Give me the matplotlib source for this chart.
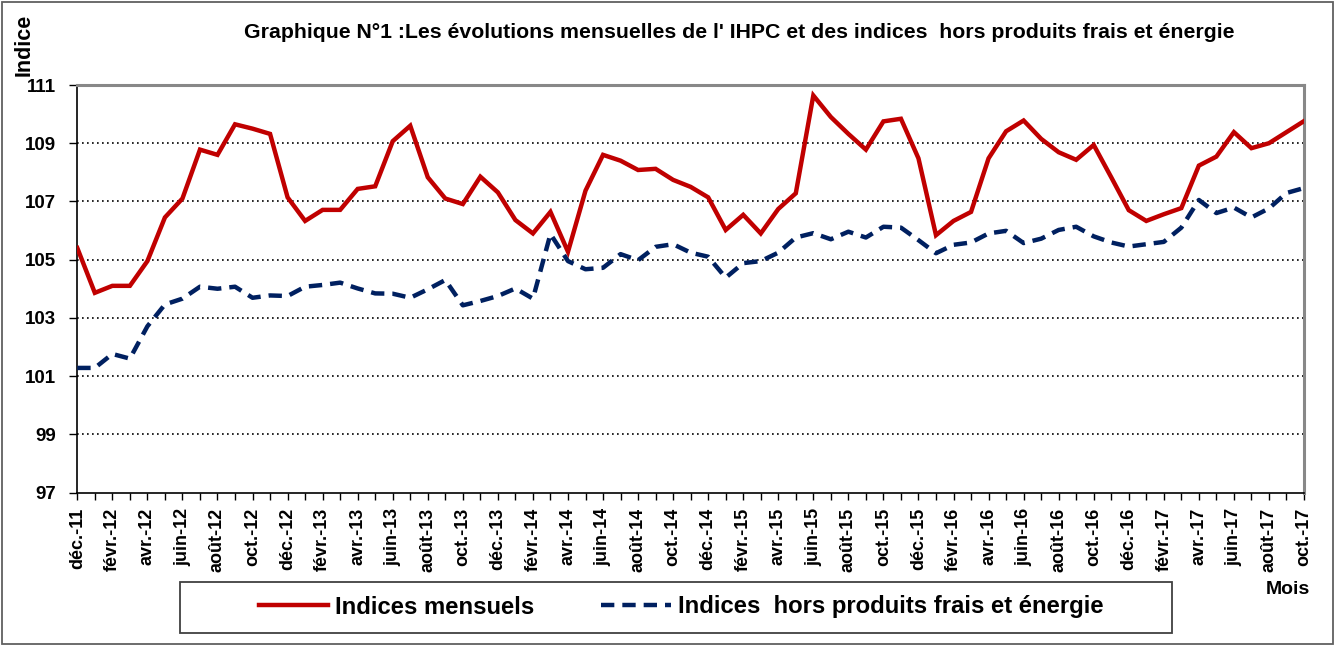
import matplotlib
matplotlib.use("Agg")
import matplotlib.pyplot as plt
from matplotlib.patches import Rectangle
from matplotlib.ticker import MultipleLocator

plt.rcParams['font.family'] = ['Liberation Sans', 'DejaVu Sans']
plt.rcParams['font.weight'] = 'bold'

# Monthly data, déc.-11 .. oct.-17 (71 months)
indices_mensuels = [
    105.4, 103.86, 104.1, 104.1, 104.95, 106.45, 107.1, 108.78, 108.6, 109.65,
    109.5, 109.32, 107.14, 106.33, 106.71, 106.71, 107.43, 107.52, 109.07, 109.6,
    107.83, 107.1, 106.91, 107.85, 107.31, 106.36, 105.9, 106.64, 105.27, 107.37,
    108.6, 108.4, 108.08, 108.12, 107.74, 107.5, 107.14, 106.02, 106.54, 105.9,
    106.74, 107.28, 110.64, 109.9, 109.32, 108.78, 109.75, 109.84, 108.48, 105.84,
    106.33, 106.64, 108.48, 109.41, 109.78, 109.15, 108.69, 108.43, 108.94, 107.83,
    106.7, 106.33, 106.56, 106.77, 108.23, 108.54, 109.38, 108.83, 109.0, 109.38,
    109.76,
]
indices_hors_pfe = [
    101.28, 101.28, 101.76, 101.6, 102.71, 103.46, 103.66, 104.07, 104.0, 104.07,
    103.69, 103.77, 103.75, 104.07, 104.13, 104.21, 104.01, 103.84, 103.83, 103.69,
    103.98, 104.3, 103.43, 103.58, 103.75, 104.01, 103.66, 105.88, 104.95, 104.67,
    104.72, 105.19, 104.98, 105.44, 105.53, 105.24, 105.1, 104.38, 104.88, 104.95,
    105.24, 105.76, 105.91, 105.7, 105.96, 105.76, 106.13, 106.1, 105.67, 105.22,
    105.51, 105.59, 105.9, 105.99, 105.57, 105.72, 106.02, 106.13, 105.8, 105.59,
    105.45, 105.53, 105.61, 106.1, 107.05, 106.6, 106.79, 106.45, 106.76, 107.29,
    107.46,
]
tick_labels = [
    "déc.-11", "févr.-12", "avr.-12", "juin-12", "août-12", "oct.-12",
    "déc.-12", "févr.-13", "avr.-13", "juin-13", "août-13", "oct.-13",
    "déc.-13", "févr.-14", "avr.-14", "juin-14", "août-14", "oct.-14",
    "déc.-14", "févr.-15", "avr.-15", "juin-15", "août-15", "oct.-15",
    "déc.-15", "févr.-16", "avr.-16", "juin-16", "août-16", "oct.-16",
    "déc.-16", "févr.-17", "avr.-17", "juin-17", "août-17", "oct.-17",
]
y_ticks = [97, 99, 101, 103, 105, 107, 109, 111]

W, H = 1335, 646
fig = plt.figure(figsize=(W / 100, H / 100), dpi=100)
ax = fig.add_axes([77.3 / W, 1 - 492.5 / H, (1304 - 77.3) / W, (492.5 - 85) / H])

x = list(range(len(indices_mensuels)))
l1, = ax.plot(x, indices_mensuels, color='#C00000', lw=3.2, solid_joinstyle='miter',
              label='Indices mensuels', zorder=3)
l2, = ax.plot(x, indices_hors_pfe, color='#002060', lw=3.2, dashes=(3.0, 1.8),
              label='Indices  hors produits frais et énergie', zorder=3)

ax.set_xlim(0, len(x) - 1)
ax.set_ylim(97, 111)
ax.set_yticks(y_ticks)
ax.set_yticklabels([str(v) for v in y_ticks], fontsize=13.5, fontweight='bold')
ax.set_xticks(list(range(0, len(x), 2)))
ax.set_xticklabels(tick_labels, rotation=90, fontsize=13, fontweight='bold')
ax.xaxis.set_minor_locator(MultipleLocator(1))
ax.tick_params(axis='x', which='both', direction='out', length=5, width=1, pad=6, colors='black')
ax.tick_params(axis='y', direction='out', length=6, width=1, pad=9)

for v in y_ticks[1:-1]:
    ax.axhline(v, color='black', lw=1.2, ls=(0, (1, 2)), zorder=1)

ax.spines['left'].set_color('black')
ax.spines['bottom'].set_color('black')
ax.spines['left'].set_linewidth(1.2)
ax.spines['bottom'].set_linewidth(1.2)
ax.spines['top'].set_color('#888888')
ax.spines['right'].set_color('#888888')
ax.spines['top'].set_linewidth(2.2)
ax.spines['right'].set_linewidth(2.2)

fig.text(739 / W, 1 - 32 / H,
         "Graphique N°1 :Les évolutions mensuelles de l' IHPC et des indices  hors produits frais et énergie",
         ha='center', va='center', fontsize=15.3, fontweight='bold')
fig.text(24 / W, 1 - 45 / H, "Indice", rotation=90, ha='center', va='center',
         fontsize=15.5, fontweight='bold')
fig.text(1288 / W, 1 - 589 / H, "Mois", ha='center', va='center', fontsize=14, fontweight='bold')

# legend
fig.patches.append(Rectangle((180 / W, 1 - 633 / H), (1172 - 180) / W, (633 - 582) / H,
                             transform=fig.transFigure, fill=False, edgecolor='#404040', lw=1.3))
fig.legend(handles=[l1, l2], loc='center', bbox_to_anchor=(681 / W, 1 - 607 / H), ncol=2,
           frameon=False, handlelength=2.9, handletextpad=0.3, columnspacing=2.8,
           prop={'weight': 'bold', 'size': 17.2})

# outer frame
fig.patches.append(Rectangle((2 / W, 2 / H), (W - 4) / W, (H - 4) / H, transform=fig.transFigure,
                             fill=False, edgecolor='#606060', lw=1.3))

fig.savefig("out.png", dpi=100)
